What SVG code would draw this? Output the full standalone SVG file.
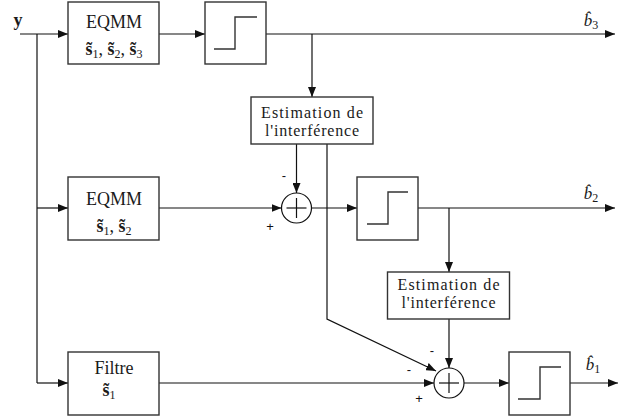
<svg xmlns="http://www.w3.org/2000/svg" width="632" height="420" viewBox="0 0 632 420">
<style>
.box{fill:#fff;stroke:#333;stroke-width:1.4}
.ln{fill:none;stroke:#111;stroke-width:1.2}
.arr{fill:none;stroke:#111;stroke-width:1.2;marker-end:url(#ah)}
.step{fill:none;stroke:#333;stroke-width:1.4}
.t{font-family:"Liberation Serif","DejaVu Serif",serif;fill:#1a1a1a;text-anchor:middle}
.m{font-size:18px}
.e{font-size:16px}
.s{font-size:12px}
.sg{font-family:"Liberation Sans",Arial,sans-serif;font-size:13px;fill:#111;text-anchor:middle}
</style>
<defs>
<marker id="ah" markerWidth="10" markerHeight="8" refX="10" refY="4" orient="auto" markerUnits="userSpaceOnUse">
<path d="M0,0 L10,4 L0,8 Z" fill="#111"/>
</marker>
</defs>
<g id="connectors">
<line class="arr" x1="20" y1="34" x2="68" y2="34"/>
<polyline class="ln" points="37,34 37,383"/>
<line class="arr" x1="37" y1="208" x2="68" y2="208"/>
<line class="arr" x1="37" y1="383" x2="68" y2="383"/>
<line class="arr" x1="159" y1="34" x2="205" y2="34"/>
<line class="arr" x1="266" y1="34" x2="615" y2="34"/>
<line class="arr" x1="312" y1="34" x2="312" y2="97"/>
<line class="arr" x1="296.5" y1="144" x2="296.5" y2="193"/>
<line class="arr" x1="159" y1="208" x2="281.5" y2="208"/>
<line class="arr" x1="311.5" y1="208" x2="357" y2="208"/>
<line class="arr" x1="418" y1="208" x2="615" y2="208"/>
<line class="arr" x1="449" y1="208" x2="449" y2="272"/>
<polyline class="arr" points="327,144 327,319 436,371"/>
<line class="arr" x1="449" y1="319" x2="449" y2="368"/>
<line class="arr" x1="159" y1="383" x2="434" y2="383"/>
<line class="arr" x1="464" y1="383" x2="509" y2="383"/>
<line class="arr" x1="570" y1="383" x2="618" y2="383"/>
</g>
<g id="input-y">
<text class="t" x="18" y="26" font-size="18" font-weight="bold">y</text>
</g>
<g id="eqmm1">
<rect class="box" x="68" y="2" width="91" height="62"/>
<text class="t m" x="114" y="28">EQMM</text>
<text class="t m" x="114" y="55"><tspan font-weight="bold">s̃</tspan><tspan class="s" dy="3">1</tspan><tspan dy="-3">, </tspan><tspan font-weight="bold">s̃</tspan><tspan class="s" dy="3">2</tspan><tspan dy="-3">, </tspan><tspan font-weight="bold">s̃</tspan><tspan class="s" dy="3">3</tspan></text>
</g>
<g id="dec1">
<rect class="box" x="205" y="2" width="61" height="62"/>
<polyline class="step" points="214,49 235,49 235,17 257,17"/>
</g>
<g id="out-b3">
<text class="t" x="591" y="26" font-size="17" font-style="italic">b̂<tspan font-size="12" dy="3" font-style="normal">3</tspan></text>
</g>
<g id="est1">
<rect class="box" x="251" y="97" width="122" height="47"/>
<text class="t e" x="312" y="118" textLength="102" lengthAdjust="spacing">Estimation de</text>
<text class="t e" x="312" y="136" textLength="94" lengthAdjust="spacing">l'interférence</text>
</g>
<g id="sum1">
<circle cx="296.5" cy="208" r="15" fill="#fff" stroke="#111" stroke-width="1.2"/>
<line class="ln" x1="286.5" y1="208" x2="306.5" y2="208"/>
<line class="ln" x1="296.5" y1="198" x2="296.5" y2="218"/>
<text class="sg" x="284" y="180">-</text>
<text class="sg" x="270" y="231">+</text>
</g>
<g id="eqmm2">
<rect class="box" x="68" y="177" width="91" height="63"/>
<text class="t m" x="114" y="205">EQMM</text>
<text class="t m" x="114" y="232"><tspan font-weight="bold">s̃</tspan><tspan class="s" dy="3">1</tspan><tspan dy="-3">, </tspan><tspan font-weight="bold">s̃</tspan><tspan class="s" dy="3">2</tspan></text>
</g>
<g id="dec2">
<rect class="box" x="357" y="177" width="61" height="63"/>
<polyline class="step" points="367,224 388,224 388,192 408,192"/>
</g>
<g id="out-b2">
<text class="t" x="591" y="199" font-size="17" font-style="italic">b̂<tspan font-size="12" dy="3" font-style="normal">2</tspan></text>
</g>
<g id="est2">
<rect class="box" x="387.5" y="272" width="122" height="47"/>
<text class="t e" x="448.5" y="290" textLength="102" lengthAdjust="spacing">Estimation de</text>
<text class="t e" x="448.5" y="308" textLength="94" lengthAdjust="spacing">l'interférence</text>
</g>
<g id="filtre">
<rect class="box" x="68" y="352" width="91" height="63"/>
<text class="t m" x="114" y="374">Filtre</text>
<text class="t m" x="109" y="396"><tspan font-weight="bold">s̃</tspan><tspan class="s" dy="3">1</tspan></text>
</g>
<g id="sum2">
<circle cx="449" cy="383" r="15" fill="#fff" stroke="#111" stroke-width="1.2"/>
<line class="ln" x1="439" y1="383" x2="459" y2="383"/>
<line class="ln" x1="449" y1="373" x2="449" y2="393"/>
<text class="sg" x="432" y="355">-</text>
<text class="sg" x="409" y="374">-</text>
<text class="sg" x="419" y="403">+</text>
</g>
<g id="dec3">
<rect class="box" x="509" y="352" width="61" height="63"/>
<polyline class="step" points="518,399 540,399 540,367 561,367"/>
</g>
<g id="out-b1">
<text class="t" x="593" y="370" font-size="17" font-style="italic">b̂<tspan font-size="12" dy="3" font-style="normal">1</tspan></text>
</g>
</svg>
